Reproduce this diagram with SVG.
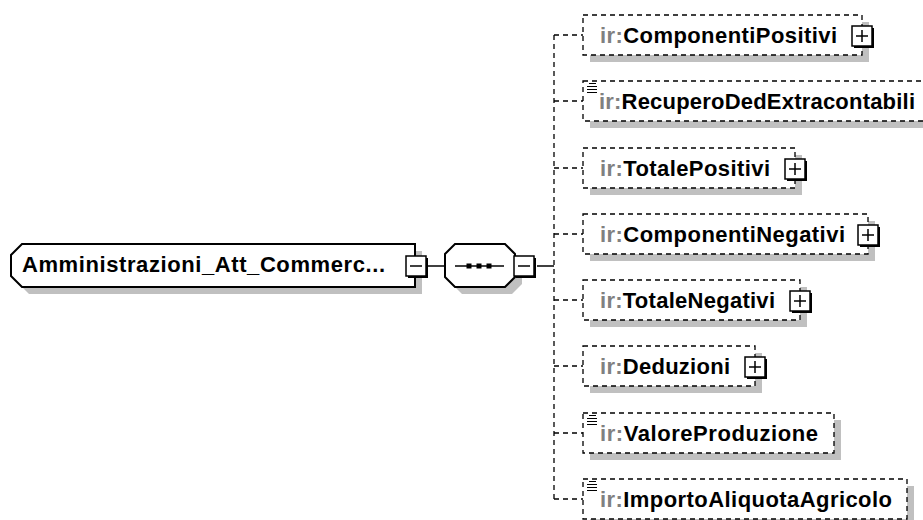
<svg xmlns="http://www.w3.org/2000/svg" xmlns:xlink="http://www.w3.org/1999/xlink" width="923" height="520" viewBox="0 0 923 520">
<style>
.sh{fill:#c0c0c0}
.el{fill:#fff;stroke:#000;stroke-width:1.3;stroke-dasharray:5,4}
.t{font-family:"Liberation Sans",Arial,sans-serif;font-weight:bold;font-size:22px;fill:#000}
.ns{fill:#808080}
.cn{stroke:#000;stroke-width:1.3;stroke-dasharray:5,4;fill:none}
.sl{stroke:#000;stroke-width:1.5;fill:none}
.bx{fill:#fff;stroke:#000;stroke-width:1.5}
</style>
<defs>
<g id="plus">
<rect x="-8" y="-8" width="20" height="20" fill="#000"/>
<rect x="-10" y="-10" width="20" height="20" class="bx"/>
<path d="M-6,0H6M0,-6V6" class="sl"/>
</g>
<g id="minus">
<rect x="-8" y="-8" width="20" height="20" fill="#000"/>
<rect x="-10" y="-10" width="20" height="20" class="bx"/>
<path d="M-6,0H6" class="sl"/>
</g>
<g id="eq">
<path d="M2,0.5H9M0,3.5H10M0,6.5H10M0,9.5H10" stroke="#000" stroke-width="1" fill="none"/>
</g>
</defs>

<g id="connectors">
<path d="M427,266H445" class="sl"/>
<path d="M537,266H554" class="sl"/>
<path d="M554,35V499" class="cn"/>
<path d="M554,35H583M554,101H583M554,168H583M554,234H583M554,300H583M554,366H583M554,433H583M554,499H583" class="cn"/>
</g>

<g id="main">
<path d="M29,251H422V294H29L18,283V262Z" class="sh"/>
<path d="M22,244H415V287H22L11,276V255Z" fill="#fff" stroke="#000" stroke-width="2"/>
<text x="22" y="272" class="t" textLength="363" lengthAdjust="spacing">Amministrazioni_Att_Commerc...</text>
<use xlink:href="#minus" x="416" y="266"/>
</g>

<g id="sequence">
<path d="M462,251H512L522,261V284L512,294H462L452,284V261Z" class="sh"/>
<path d="M455,244H505L515,254V277L505,287H455L445,277V254Z" fill="#fff" stroke="#000" stroke-width="2"/>
<path d="M455,266H504" class="sl"/>
<rect x="466.5" y="263.5" width="5" height="5" fill="#000"/>
<rect x="476.5" y="263.5" width="5" height="5" fill="#000"/>
<rect x="486.5" y="263.5" width="5" height="5" fill="#000"/>
<use xlink:href="#minus" x="524" y="266"/>
</g>

<g id="n1">
<rect x="590" y="22" width="279" height="40" class="sh"/>
<rect x="583" y="15" width="279" height="40" class="el"/>
<text x="600" y="43" class="t" textLength="237" lengthAdjust="spacing"><tspan class="ns">ir:</tspan>ComponentiPositivi</text>
<use xlink:href="#plus" x="862" y="36"/>
</g>

<g id="n2">
<rect x="590" y="88" width="348" height="40" class="sh"/>
<rect x="583" y="81" width="348" height="40" class="el"/>
<use xlink:href="#eq" x="587" y="83"/>
<text x="599" y="109" class="t" textLength="316" lengthAdjust="spacing"><tspan class="ns">ir:</tspan>RecuperoDedExtracontabili</text>
</g>

<g id="n3">
<rect x="590" y="155" width="212" height="40" class="sh"/>
<rect x="583" y="148" width="212" height="40" class="el"/>
<text x="600" y="176" class="t" textLength="170" lengthAdjust="spacing"><tspan class="ns">ir:</tspan>TotalePositivi</text>
<use xlink:href="#plus" x="795" y="169"/>
</g>

<g id="n4">
<rect x="590" y="221" width="285" height="40" class="sh"/>
<rect x="583" y="214" width="285" height="40" class="el"/>
<text x="600" y="242" class="t" textLength="245" lengthAdjust="spacing"><tspan class="ns">ir:</tspan>ComponentiNegativi</text>
<use xlink:href="#plus" x="868" y="235"/>
</g>

<g id="n5">
<rect x="590" y="287" width="217" height="40" class="sh"/>
<rect x="583" y="280" width="217" height="40" class="el"/>
<text x="600" y="308" class="t" textLength="175" lengthAdjust="spacing"><tspan class="ns">ir:</tspan>TotaleNegativi</text>
<use xlink:href="#plus" x="800" y="301"/>
</g>

<g id="n6">
<rect x="590" y="353" width="172" height="40" class="sh"/>
<rect x="583" y="346" width="172" height="40" class="el"/>
<text x="600" y="374" class="t" textLength="130" lengthAdjust="spacing"><tspan class="ns">ir:</tspan>Deduzioni</text>
<use xlink:href="#plus" x="755" y="367"/>
</g>

<g id="n7">
<rect x="590" y="420" width="251" height="40" class="sh"/>
<rect x="583" y="413" width="251" height="40" class="el"/>
<use xlink:href="#eq" x="587" y="415"/>
<text x="600" y="441" class="t" textLength="218" lengthAdjust="spacing"><tspan class="ns">ir:</tspan>ValoreProduzione</text>
</g>

<g id="n8">
<rect x="590" y="486" width="324" height="40" class="sh"/>
<rect x="583" y="479" width="324" height="40" class="el"/>
<use xlink:href="#eq" x="587" y="481"/>
<text x="600" y="507" class="t" textLength="292" lengthAdjust="spacing"><tspan class="ns">ir:</tspan>ImportoAliquotaAgricolo</text>
</g>
</svg>
